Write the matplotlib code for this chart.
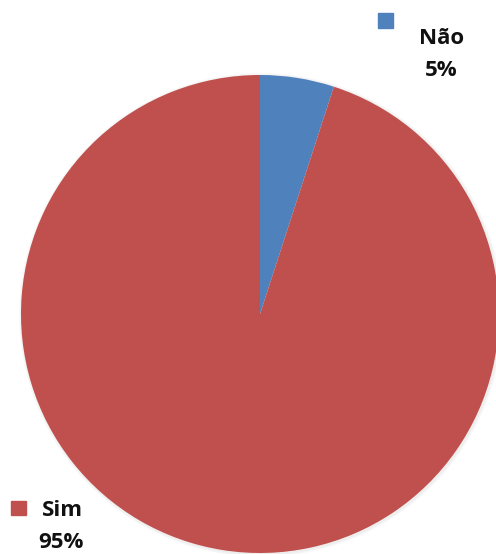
import matplotlib.pyplot as plt
from matplotlib.patches import Rectangle

# ======================================
# Data
# ======================================

labels = ["Não", "Sim"]
values = [5, 95]
colors = ["#4F81BD", "#C0504D"]

# ======================================
# Figure (pixel coordinates, y up)
# ======================================

W, H = 496, 554
fig = plt.figure(figsize=(W / 100, H / 100), dpi=100)
ax = fig.add_axes([0, 0, 1, 1])

cx, cy, r = 260, H - 314, 239

# soft shadow ring
for i, a in enumerate([0.05, 0.05, 0.06]):
    ax.add_patch(plt.Circle((cx + 1, cy - 1), r + 3 - i, color="#999999",
                            alpha=a, lw=0, zorder=1))

ax.pie(values, colors=colors, startangle=90, counterclock=False,
       center=(cx, cy), radius=r, frame=True,
       wedgeprops=dict(linewidth=0, zorder=2))
ax.set_xlim(0, W)
ax.set_ylim(0, H)
ax.set_aspect("equal")
ax.axis("off")

# ======================================
# Labels
# ======================================

font = dict(family="Open Sans", fontsize=16, fontweight="bold",
            color="#111111", ha="center", va="center")

# Não
ax.add_patch(Rectangle((378, H - 28), 15, 15, color=colors[0], zorder=3))
ax.text(442, H - 38, labels[0], **font)
ax.text(441, H - 70, f"{values[0]}%", **font)

# Sim
ax.add_patch(Rectangle((11, H - 515), 15, 14, color=colors[1], zorder=3))
ax.text(62, H - 510, labels[1], **font)
ax.text(61, H - 542, f"{values[1]}%", **font)

fig.savefig("out.png", dpi=100)
